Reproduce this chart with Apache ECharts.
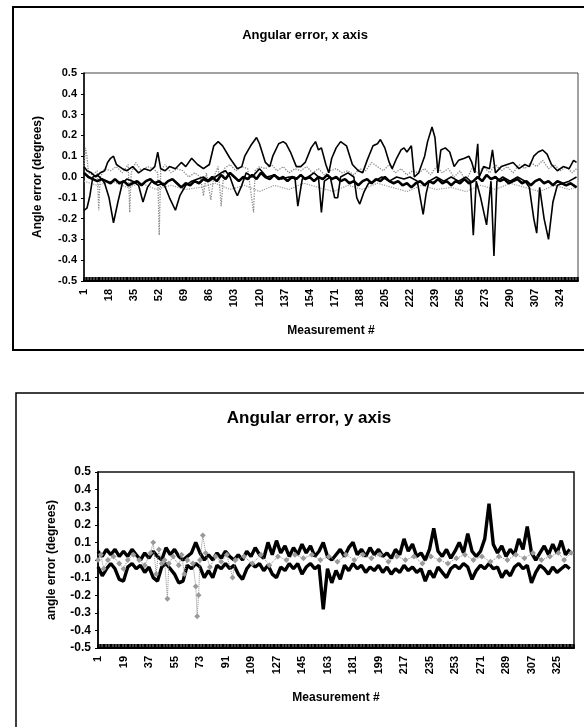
<!DOCTYPE html>
<html>
<head>
<meta charset="utf-8">
<script src="https://cdn.jsdelivr.net/npm/echarts@6.0.0/dist/echarts.min.js"></script>
<style>
  html, body { margin: 0; padding: 0; background: #fff; }
  #chart { width: 584px; height: 727px; }
</style>
</head>
<body>
<div id="chart"></div>
<script>
// ---- x axis errors (top chart), [measurement #, degrees] ----
const xHumps = [[1,0.05],[3,0.03],[6,0.02],[9,0.0],[12,0.02],[15,0.03],[17,0.07],[19,0.09],[21,0.1],[23,0.06],[25,0.05],[27,0.04],[30,0.03],[34,0.05],[38,0.02],[42,0.04],[46,0.03],[49,0.05],[51,0.12],[53,0.04],[56,0.03],[59,0.05],[63,0.04],[67,0.07],[70,0.05],[74,0.09],[78,0.06],[82,0.04],[86,0.06],[89,0.15],[92,0.17],[95,0.15],[100,0.09],[105,0.04],[108,0.05],[110,0.1],[114,0.15],[118,0.19],[120,0.16],[124,0.07],[127,0.05],[129,0.1],[133,0.16],[136,0.17],[138,0.16],[141,0.12],[145,0.05],[148,0.05],[151,0.07],[155,0.14],[158,0.17],[160,0.13],[162,0.14],[165,0.06],[167,0.02],[169,0.09],[172,0.14],[175,0.17],[179,0.15],[183,0.06],[187,0.03],[190,0.02],[193,0.08],[197,0.15],[200,0.16],[202,0.18],[205,0.14],[208,0.07],[210,0.04],[213,0.09],[216,0.13],[218,0.14],[220,0.12],[223,0.15],[225,0.0],[228,0.02],[232,0.1],[234,0.17],[237,0.24],[239,0.19],[241,0.02],[243,0.13],[246,0.14],[249,0.12],[252,0.05],[255,0.08],[259,0.09],[262,0.1],[264,0.07],[266,0.02],[268,0.16],[269,0.0],[272,0.05],[276,0.04],[278,0.13],[280,0.02],[284,0.05],[288,0.06],[292,0.07],[296,0.04],[300,0.06],[303,0.05],[306,0.1],[309,0.12],[312,0.13],[315,0.11],[318,0.06],[322,0.03],[326,0.05],[330,0.04],[333,0.08],[335,0.07]];
const xDips = [[1,-0.16],[3,-0.15],[5,-0.09],[7,0.0],[10,0.01],[13,-0.01],[15,-0.03],[18,-0.1],[21,-0.22],[24,-0.12],[27,-0.03],[30,-0.01],[34,-0.02],[38,-0.04],[41,-0.12],[44,-0.05],[47,-0.02],[51,-0.04],[55,-0.03],[59,-0.1],[63,-0.16],[66,-0.09],[70,-0.04],[74,-0.02],[78,-0.01],[82,0.0],[86,-0.02],[90,0.0],[94,0.02],[97,0.03],[100,0.0],[103,-0.06],[105,-0.09],[108,-0.04],[111,0.02],[115,0.0],[120,0.04],[125,0.0],[130,0.01],[135,-0.01],[140,0.0],[144,0.0],[146,-0.14],[149,-0.01],[153,0.0],[157,0.02],[160,0.0],[162,-0.17],[164,-0.02],[168,0.0],[171,-0.1],[173,-0.1],[175,0.0],[180,0.02],[184,0.0],[186,-0.1],[188,-0.13],[191,-0.07],[194,-0.03],[198,-0.02],[203,0.0],[208,-0.02],[213,0.0],[218,-0.01],[222,0.0],[227,-0.02],[229,-0.1],[231,-0.18],[233,-0.08],[235,-0.02],[240,0.0],[245,-0.02],[250,0.0],[255,-0.02],[260,0.0],[263,-0.02],[265,-0.28],[267,-0.02],[270,-0.1],[274,-0.23],[277,-0.02],[279,-0.38],[281,-0.02],[285,0.0],[290,-0.02],[295,0.0],[300,-0.02],[303,-0.05],[306,-0.2],[308,-0.27],[310,-0.05],[313,-0.2],[316,-0.3],[319,-0.12],[322,-0.04],[326,-0.03],[330,-0.02],[335,0.0]];
const xGray = [[1,0.05],[2,0.14],[3,0.1],[4,0.02],[7,0.01],[10,0.03],[11,-0.16],[12,0.0],[15,0.04],[19,0.03],[23,0.05],[27,0.02],[31,0.06],[32,-0.17],[33,0.02],[36,0.07],[40,0.03],[44,0.05],[48,0.04],[51,0.02],[52,-0.28],[53,0.03],[56,0.06],[60,0.02],[64,0.04],[68,0.03],[72,0.0],[76,0.02],[80,0.0],[82,-0.09],[84,0.02],[87,-0.11],[89,0.0],[92,0.05],[94,-0.14],[96,0.04],[100,0.06],[104,0.03],[108,0.05],[112,0.04],[116,-0.17],[117,0.03],[120,0.05],[124,0.04],[128,0.06],[132,0.03],[136,0.05],[140,0.02],[144,0.04],[148,0.03],[152,0.05],[156,0.02],[160,0.04],[164,0.01],[168,0.03],[172,0.04],[176,0.02],[180,0.03],[184,0.01],[188,0.04],[192,0.03],[196,0.07],[200,0.05],[204,0.03],[208,0.06],[212,0.02],[216,0.04],[220,0.01],[224,0.03],[228,0.02],[232,0.04],[236,0.01],[240,0.05],[244,0.02],[248,0.04],[252,0.0],[256,0.03],[260,-0.02],[264,0.04],[268,0.02],[272,0.05],[276,0.02],[280,0.06],[284,0.03],[288,0.05],[292,0.02],[296,0.06],[300,0.04],[304,0.07],[308,0.05],[312,0.08],[316,0.04],[320,0.06],[324,0.03],[328,0.05],[332,0.02],[335,0.04]];
const xGrayLow = [[1,-0.02],[10,-0.04],[20,-0.02],[30,-0.05],[40,-0.03],[50,-0.06],[60,-0.04],[70,-0.06],[80,-0.05],[90,-0.03],[100,-0.06],[110,-0.04],[120,-0.07],[130,-0.04],[140,-0.06],[150,-0.03],[160,-0.05],[170,-0.07],[180,-0.04],[190,-0.06],[200,-0.03],[210,-0.05],[220,-0.07],[230,-0.04],[240,-0.06],[250,-0.05],[260,-0.07],[270,-0.04],[280,-0.06],[290,-0.03],[300,-0.05],[310,-0.07],[320,-0.04],[330,-0.06],[335,-0.05]];
const xBase = [[1,0.02],[4,0.0],[7,-0.01],[10,-0.02],[13,-0.01],[16,-0.02],[19,-0.03],[22,-0.01],[25,-0.03],[28,-0.02],[31,-0.04],[34,-0.03],[37,-0.02],[40,-0.04],[43,-0.02],[46,-0.01],[49,-0.03],[52,-0.02],[55,-0.04],[58,-0.02],[61,-0.01],[64,-0.03],[67,-0.05],[70,-0.03],[73,-0.04],[76,-0.02],[79,-0.03],[82,-0.01],[85,-0.02],[88,0.0],[91,-0.02],[94,0.01],[97,-0.01],[100,0.02],[103,0.0],[106,-0.02],[109,0.0],[112,-0.01],[115,0.01],[118,-0.01],[121,0.02],[124,0.0],[127,-0.01],[130,0.01],[133,-0.01],[136,0.0],[139,-0.02],[142,0.0],[145,-0.01],[148,0.01],[151,-0.01],[154,0.0],[157,-0.02],[160,0.0],[163,-0.01],[166,0.01],[169,-0.01],[172,0.0],[175,-0.02],[178,-0.01],[181,-0.03],[184,-0.02],[187,-0.04],[190,-0.02],[193,-0.01],[196,-0.03],[199,-0.01],[202,-0.02],[205,0.0],[208,-0.02],[211,-0.03],[214,-0.02],[217,-0.04],[220,-0.03],[223,-0.05],[226,-0.03],[229,-0.02],[232,-0.04],[235,-0.02],[238,-0.03],[241,-0.01],[244,-0.03],[247,-0.02],[250,-0.04],[253,-0.02],[256,-0.03],[259,-0.01],[262,-0.03],[265,-0.02],[268,0.0],[271,-0.02],[274,0.01],[277,-0.01],[280,0.0],[283,-0.02],[286,-0.01],[289,-0.03],[292,-0.02],[295,-0.01],[298,-0.03],[301,-0.02],[304,-0.04],[307,-0.02],[310,-0.01],[313,-0.03],[316,-0.02],[319,-0.04],[322,-0.02],[325,-0.03],[328,-0.04],[331,-0.03],[335,-0.05]];

// ---- y axis errors (bottom chart), one value every 3rd measurement starting at #1 ----
const yUpper = [0.05,0.02,0.06,0.03,0.06,0.02,0.05,0.02,0.06,0.03,0.0,0.04,0.01,0.05,0.02,0.0,0.07,0.03,0.06,0.02,0.0,0.02,0.04,0.1,0.04,0.0,0.03,0.0,0.04,0.01,0.05,0.02,0.0,0.03,0.0,0.05,0.02,0.07,0.03,0.01,0.1,0.03,0.11,0.04,0.08,0.02,0.07,0.03,0.09,0.04,0.08,0.02,0.05,0.1,0.02,0.0,0.03,0.06,0.02,0.07,0.1,0.03,0.06,0.02,0.07,0.03,0.06,0.02,0.04,0.01,0.06,0.03,0.12,0.05,0.09,0.02,0.04,0.0,0.06,0.18,0.05,0.02,0.06,0.01,0.05,0.1,0.04,0.15,0.05,0.02,0.05,0.12,0.32,0.09,0.04,0.08,0.02,0.06,0.03,0.12,0.06,0.19,0.04,0.0,0.04,0.08,0.03,0.09,0.04,0.11,0.03,0.06];
const yLower = [-0.04,-0.09,-0.05,-0.02,-0.05,-0.11,-0.12,-0.04,-0.02,-0.05,-0.03,-0.07,-0.04,-0.1,-0.12,-0.04,-0.02,-0.05,-0.08,-0.13,-0.12,-0.03,-0.05,-0.02,-0.04,-0.1,-0.06,-0.1,-0.03,-0.05,-0.02,-0.05,-0.03,-0.08,-0.11,-0.05,-0.02,-0.04,-0.02,-0.06,-0.03,-0.08,-0.1,-0.04,-0.06,-0.02,-0.05,-0.02,-0.08,-0.04,-0.02,-0.05,-0.03,-0.28,-0.05,-0.13,-0.06,-0.11,-0.03,-0.06,-0.02,-0.05,-0.03,-0.07,-0.04,-0.06,-0.03,-0.07,-0.04,-0.08,-0.05,-0.07,-0.03,-0.06,-0.04,-0.07,-0.05,-0.12,-0.06,-0.1,-0.04,-0.07,-0.1,-0.05,-0.03,-0.05,-0.02,-0.04,-0.11,-0.06,-0.03,-0.05,-0.02,-0.05,-0.04,-0.1,-0.06,-0.09,-0.04,-0.02,-0.05,-0.03,-0.13,-0.07,-0.03,-0.05,-0.08,-0.04,-0.07,-0.05,-0.03,-0.05];
const yGray = [[1,0.0],[3,0.03],[5,-0.05],[8,0.0],[12,0.02],[16,-0.02],[19,-0.05],[22,0.0],[26,0.03],[30,0.0],[34,-0.03],[38,0.04],[40,0.1],[42,-0.08],[44,0.06],[46,-0.02],[48,0.0],[50,-0.22],[51,-0.02],[54,0.02],[58,-0.03],[60,0.03],[62,-0.08],[64,0.0],[68,-0.02],[70,-0.15],[71,-0.32],[72,-0.2],[73,0.0],[75,0.14],[77,0.04],[80,-0.04],[84,0.02],[88,-0.01],[92,0.03],[96,-0.1],[98,0.0],[104,0.02],[110,-0.02],[116,0.03],[122,-0.03],[128,0.02],[134,0.0],[140,0.03],[146,0.01],[152,0.03],[158,0.0],[164,0.02],[170,-0.01],[176,0.03],[182,0.0],[188,0.03],[194,0.01],[200,0.03],[206,-0.01],[212,0.02],[218,0.0],[224,0.02],[230,-0.02],[236,0.02],[242,0.0],[248,-0.02],[254,0.01],[260,0.03],[266,0.0],[272,0.02],[278,-0.01],[284,0.02],[290,0.0],[296,0.03],[302,0.01],[308,0.04],[314,0.0],[320,0.02],[326,0.04],[330,0.0],[335,0.04]];

const yTicks = { min: -0.5, max: 0.5, interval: 0.1 };
const FONT = '"Liberation Sans", Arial, sans-serif';

// measurement # -> position on the value axis (first measurement sits on the axis)
function toXY(pairs) {
  return pairs.map(p => [p[0] - 1, p[1]]);
}
function fromStep(values, step) {
  return values.map((v, i) => [i * step, v]);
}

function xAxisCfg(gridIndex, interval, max, size) {
  return {
    gridIndex: gridIndex,
    type: 'value',
    min: 0,
    max: max,
    interval: interval,
    name: 'Measurement #',
    nameLocation: 'middle',
    nameGap: 44,
    nameTextStyle: { fontFamily: FONT, fontWeight: 'bold', fontSize: 12, color: '#000' },
    axisLine: { onZero: false, lineStyle: { color: '#000', width: 2 } },
    axisTick: { show: true, inside: true, length: 4, lineStyle: { color: '#000', width: 1.5 } },
    minorTick: { show: true, splitNumber: interval, length: 4, lineStyle: { color: '#000', width: 1.5 } },
    splitLine: { show: false },
    axisLabel: {
      rotate: 90,
      showMaxLabel: false,
      fontFamily: FONT,
      fontWeight: 'bold',
      fontSize: size,
      color: '#000',
      margin: 8,
      formatter: v => String(v + 1)
    }
  };
}

function yAxisCfg(gridIndex, name, nameGap, size) {
  return {
    gridIndex: gridIndex,
    type: 'value',
    min: yTicks.min,
    max: yTicks.max,
    interval: yTicks.interval,
    name: name,
    nameLocation: 'middle',
    nameRotate: 90,
    nameGap: nameGap,
    nameTextStyle: { fontFamily: FONT, fontWeight: 'bold', fontSize: 12, color: '#000' },
    axisLine: { show: true, onZero: false, lineStyle: { color: '#000', width: 1.5 } },
    axisTick: { show: true, length: 3, lineStyle: { color: '#000' } },
    splitLine: { show: false },
    axisLabel: {
      fontFamily: FONT,
      fontWeight: 'bold',
      fontSize: size,
      color: '#000',
      margin: 7,
      formatter: v => v.toFixed(1)
    }
  };
}

function line(name, data, xi, color, width, type) {
  return {
    name: name,
    type: 'line',
    xAxisIndex: xi,
    yAxisIndex: xi,
    data: data,
    showSymbol: false,
    symbol: 'none',
    lineStyle: { color: color, width: width, type: type || 'solid' },
    z: 2
  };
}

let myChart = echarts.init(document.getElementById('chart'), null, { renderer: 'canvas' });
let option = {
  animation: false,
  backgroundColor: '#fff',
  title: [
    {
      text: 'Angular error, x axis',
      left: 300, top: 24, textAlign: 'center',
      textStyle: { fontFamily: FONT, fontWeight: 'bold', fontSize: 13, color: '#000' }
    },
    {
      text: 'Angular error, y axis',
      left: 304, top: 405, textAlign: 'center',
      textStyle: { fontFamily: FONT, fontWeight: 'bold', fontSize: 17, color: '#000' }
    }
  ],
  graphic: [
    { type: 'rect', shape: { x: 13, y: 7, width: 580, height: 343 }, style: { fill: 'none', stroke: '#000', lineWidth: 2 }, silent: true },
    { type: 'rect', shape: { x: 16, y: 393, width: 580, height: 345 }, style: { fill: 'none', stroke: '#000', lineWidth: 1.5 }, silent: true }
  ],
  grid: [
    { left: 84, top: 73, width: 494, height: 208, show: true, borderColor: '#444', borderWidth: 1 },
    { left: 98, top: 472, width: 476, height: 176, show: true, borderColor: '#111', borderWidth: 1.5 }
  ],
  xAxis: [
    xAxisCfg(0, 17, 335, 11),
    xAxisCfg(1, 18, 336, 11)
  ],
  yAxis: [
    yAxisCfg(0, 'Angle error (degrees)', 40, 11),
    yAxisCfg(1, 'angle error (degrees)', 40, 12)
  ],
  series: [
    line('x gray low', toXY(xGrayLow), 0, '#9a9a9a', 1.2, 'dotted'),
    line('x gray', toXY(xGray), 0, '#8a8a8a', 1.3, 'dotted'),
    line('x base', toXY(xBase), 0, '#000', 2.6),
    line('x humps', toXY(xHumps), 0, '#000', 1.6),
    line('x dips', toXY(xDips), 0, '#000', 1.6),
    line('y upper', fromStep(yUpper, 3), 1, '#000', 3.4),
    line('y lower', fromStep(yLower, 3), 1, '#000', 3.4),
    Object.assign(line('y gray', toXY(yGray), 1, '#8a8a8a', 1, 'dotted'), {
      showSymbol: true,
      symbol: 'emptyDiamond',
      symbolSize: 3,
      itemStyle: { color: '#999', borderColor: '#999' },
      z: 3
    })
  ]
};
myChart.setOption(option);
</script>
</body>
</html>
